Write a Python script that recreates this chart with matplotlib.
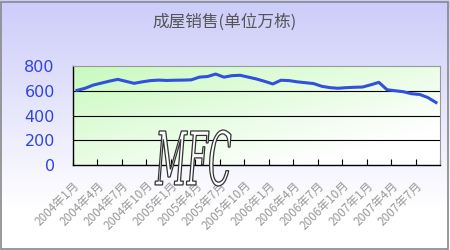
import numpy as np
import matplotlib
matplotlib.use('Agg')
import matplotlib.pyplot as plt
from matplotlib.textpath import TextPath
from matplotlib.font_manager import FontProperties
from matplotlib.patches import PathPatch
from matplotlib.transforms import Affine2D

plt.rcParams['font.family'] = ['Noto Sans CJK SC', 'DejaVu Sans']

# monthly sales, 2004-01 .. 2007-09
months = ['%d年%d月' % (2004 + i // 12, i % 12 + 1) for i in range(45)]
sales = [603, 620, 646, 662, 678, 692, 676, 660, 672, 682, 686, 683,
         685, 686, 688, 710, 715, 735, 710, 722, 725, 710, 695, 676,
         655, 685, 682, 672, 665, 658, 636, 625, 620, 625, 628, 630,
         648, 668, 608, 600, 592, 576, 570, 545, 505]
tick_labels = months[::3]
y_ticks = [0, 200, 400, 600, 800]

fig = plt.figure(figsize=(4.5, 2.5), dpi=100)

# figure background gradient (lavender -> white)
bg = fig.add_axes([0, 0, 1, 1], zorder=-10)
g = np.linspace(0, 1, 256).reshape(-1, 1)
top = np.array([204, 204, 250]) / 255
bgimg = top + (1 - top) * np.clip(g * 1.2, 0, 1)[..., None]
bg.imshow(bgimg, aspect='auto', extent=[0, 1, 0, 1], origin='upper')
bg.set_xlim(0, 1); bg.set_ylim(0, 1)
bg.axis('off')
fig.patches.append(plt.Rectangle((0.002, 0.004), 0.994, 0.99, transform=fig.transFigure,
                                 fill=False, ec='#888888', lw=1.2))

ax = fig.add_axes([0.162, 0.34, 0.816, 0.396])
x = np.arange(len(sales))
ax.set_xlim(-0.5, len(sales) - 0.5)
ax.set_ylim(0, 800)

# plot area gradient (light green -> white, diagonal)
xx, yy = np.meshgrid(np.linspace(0, 1, 200), np.linspace(0, 1, 100))
t = np.clip((xx * 0.8 + yy * 0.8) / 1.3, 0, 1)
green = np.array([200, 250, 190]) / 255
pimg = green + (1 - green) * t[..., None]
ax.imshow(pimg, aspect='auto', extent=[-0.5, len(sales) - 0.5, 0, 800],
          origin='upper', zorder=0)

for v in [200, 400, 600]:
    ax.axhline(v, color='black', lw=0.8, zorder=1)

ax.plot(x, sales, color='#3050dd', lw=2.2, zorder=3)

ax.set_yticks(y_ticks)
ax.set_yticklabels([str(v) for v in y_ticks], color='#3344dd', fontsize=11.5,
                   family='DejaVu Sans')
ax.tick_params(axis='y', length=0, pad=13)

ax.set_xticks(np.arange(0, len(sales) + 1, 3) - 0.5)
ax.set_xticklabels(tick_labels + [''], rotation=45, ha='right', va='top',
                   fontsize=8.5, color='#999999', rotation_mode='anchor')
ax.tick_params(axis='x', direction='in', length=4, pad=10)

for s in ['left', 'bottom']:
    ax.spines[s].set_color('black')
    ax.spines[s].set_linewidth(1)
for s in ['top', 'right']:
    ax.spines[s].set_color('#999999')
    ax.spines[s].set_linewidth(0.8)

fig.text(0.5, 0.912, '成屋销售(单位万栋)', ha='center', va='center',
         fontsize=12, color='#555555')

# watermark: tall, condensed outlined "MFC"
tp = TextPath((0, 0), 'MFC', size=40,
              prop=FontProperties(family='DejaVu Serif', style='italic'))
ext = tp.get_extents()
tr = (Affine2D().translate(-ext.x0, -ext.y0)
      .scale(76 / ext.width, 56 / ext.height)
      .translate(155, 250 - 186))
wm = PathPatch(tr.transform_path(tp), fc='white', ec='#333333', lw=0.9,
               transform=None, zorder=20)
fig.patches.append(wm)

fig.savefig('out.png', dpi=100)
